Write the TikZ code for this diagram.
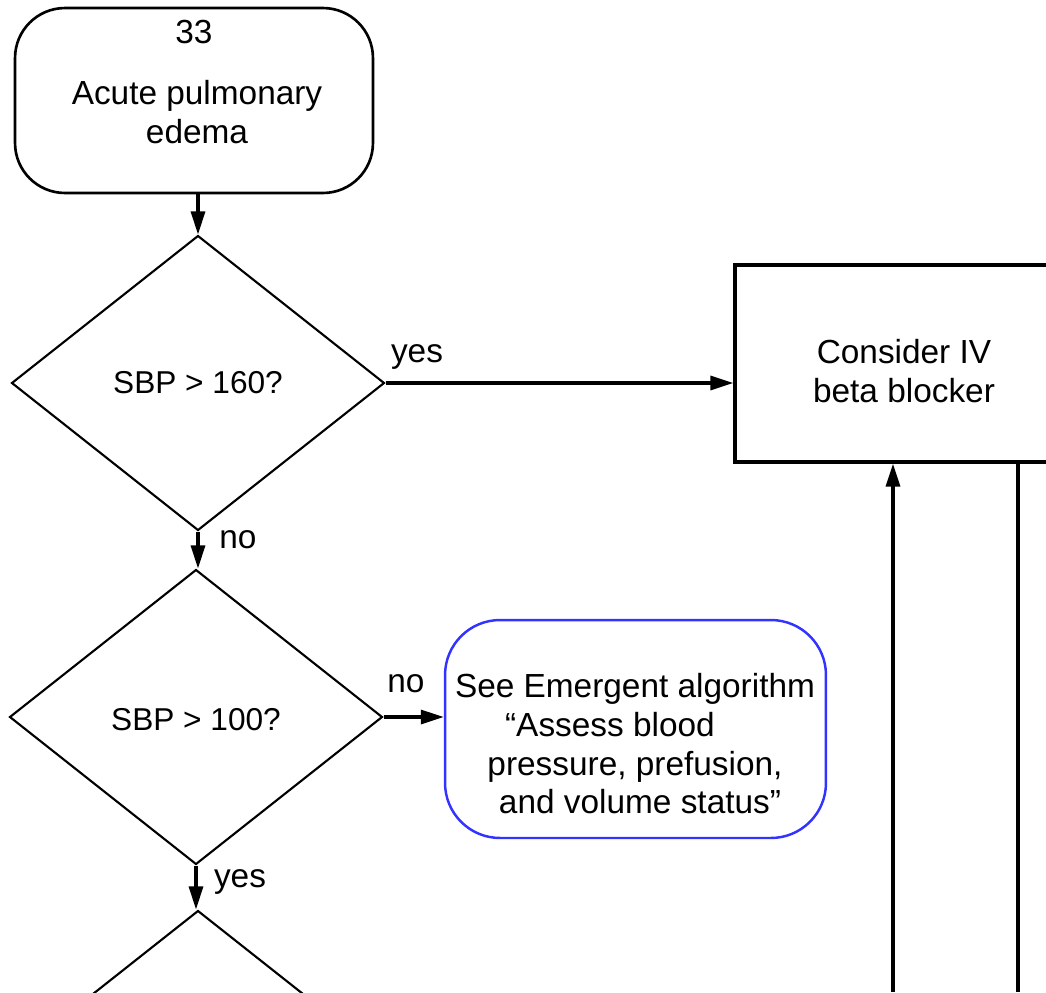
\documentclass[tikz,border=0pt]{standalone}
\usepackage{fontspec}
\setmainfont{Liberation Sans}
\usetikzlibrary{shapes.geometric,arrows.meta}
\begin{document}
\begin{tikzpicture}[x=0.02cm,y=-0.02cm,
  every node/.style={font=\fontsize{19}{22}\selectfont, inner sep=0pt},
  txt/.style={align=center},
  dtxt/.style={font=\fontsize{18}{21}\selectfont},
  startbox/.style={draw, line width=1.5pt, rounded corners=1cm, minimum width=7.16cm, minimum height=3.7cm},
  decision/.style={draw, line width=1.2pt, diamond, aspect=1.264, minimum width=7.46cm, minimum height=5.9cm},
  actionbox/.style={draw, line width=1.9pt, minimum width=6.72cm, minimum height=3.94cm},
  linkbox/.style={draw=blue!80!white, line width=1.4pt, rounded corners=1.1cm, minimum width=7.62cm, minimum height=4.36cm},
  arrow/.style={line width=1.8pt, -{Triangle[length=0.46cm,width=0.28cm]}},
  plain/.style={line width=1.8pt}
]
\useasboundingbox (0,0) rectangle (1046,992);
\clip (0,0) rectangle (1046,992);

% start box
\node[startbox] (start) at (194,100.5) {};
\node[txt] (num) at (194,32) {33};
\node[txt] (starttxt) at (197,112) {Acute pulmonary\\edema};

% decisions
\node[decision] (d1) at (198,383) {};
\node[dtxt] (d1t) at (198,383) {SBP > 160?};
\node[decision] (d2) at (196,717) {};
\node[dtxt] (d2t) at (196,720) {SBP > 100?};
\node[decision] (d3) at (198,1058) {};

% action
\node[actionbox] (cons) at (903,363.5) {};
\node[txt] (const) at (904,371) {Consider IV\\beta blocker};

% link box
\node[linkbox] (emerg) at (635.5,729) {};
\node[txt] (emergt) at (635,744) {See Emergent algorithm\\\hspace*{-1.5em}“Assess blood\\pressure, prefusion,\\\hspace*{0.3em}and volume status”};

% connectors
\draw[arrow] (start.south -| d1.north) -- (d1.north);
\draw[arrow] (d1.east) -- (cons.west |- d1.east);
\node (yes1) at (417,357) {yes};
\draw[arrow] (d1.south) -- (d2.north -| d1.south);
\node (no1) at (238,540) {no};
\draw[arrow] (d2.east) -- (emerg.west |- d2.east);
\node (no2) at (406,684) {no};
\draw[arrow] (d2.south) -- (d3.north -| d2.south);
\node (yes2) at (240,882) {yes};

% right side lines
\coordinate (r1) at (893,992);
\coordinate (r2) at (1018,992);
\draw[arrow] (r1) -- (cons.south -| r1);
\draw[plain] (r2) -- (cons.south -| r2);
\end{tikzpicture}
\end{document}
